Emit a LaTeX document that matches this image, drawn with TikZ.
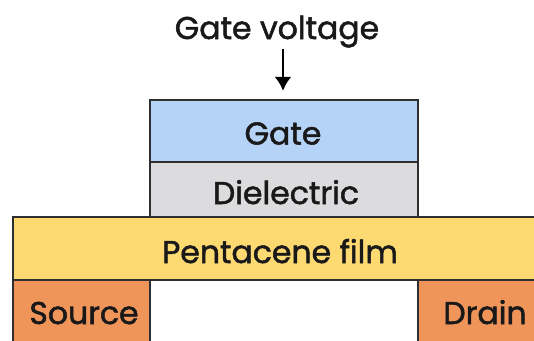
\documentclass[tikz,border=0pt]{standalone}
\usepackage{fontspec}
\usetikzlibrary{arrows.meta}
\setmainfont{Poppins}
\newfontfamily\lblfont{Poppins}[FakeBold=1.6]
\definecolor{gateblue}{HTML}{B5D3F7}
\definecolor{dielgray}{HTML}{DCDCDE}
\definecolor{pentyellow}{HTML}{FDD972}
\definecolor{contorange}{HTML}{F0955A}
\definecolor{edge}{HTML}{2E2E30}
\begin{document}
\begin{tikzpicture}[x=1pt,y=-1pt,
  layer/.style={draw=edge,line width=2.2pt,rectangle,inner sep=0pt},
  lbl/.style={font=\lblfont\fontsize{31.5}{32}\selectfont,inner sep=0pt,text=black!90}]
\useasboundingbox (0,0) rectangle (534,340);
\clip (0,0) rectangle (534,340);
\fill[white] (0,0) rectangle (534,340);
\node[layer,fill=pentyellow,minimum width=540pt,minimum height=63pt] (pent) at (283,248.5) {};
\node[lbl,anchor=base] (pentlbl) at (280,263) {Pentacene film};
\node[layer,fill=contorange,minimum width=137pt,minimum height=70pt] (src) at (81.5,315) {};
\node[lbl,anchor=base] (srclbl) at (84,324) {Source};
\node[layer,fill=contorange,minimum width=140pt,minimum height=70pt] (drn) at (488,315) {};
\node[lbl,anchor=base] (drnlbl) at (485,324) {Drain};
\node[layer,fill=dielgray,minimum width=268pt,minimum height=55pt] (diel) at (284,189.5) {};
\node[lbl,anchor=base] (diellbl) at (286,204) {Dielectric};
\node[layer,fill=gateblue,minimum width=268pt,minimum height=62pt] (gate) at (284,131) {};
\node[lbl,anchor=base] (gatelbl) at (283,144.5) {Gate};
\node[lbl,anchor=base] (volt) at (277,39) {Gate voltage};
\coordinate (atop) at (283,49);
\draw[line width=2.8pt,-{Latex[length=14pt,width=17pt]},shorten >=8pt] (atop) -- (gate.north -| atop);
\end{tikzpicture}
\end{document}
